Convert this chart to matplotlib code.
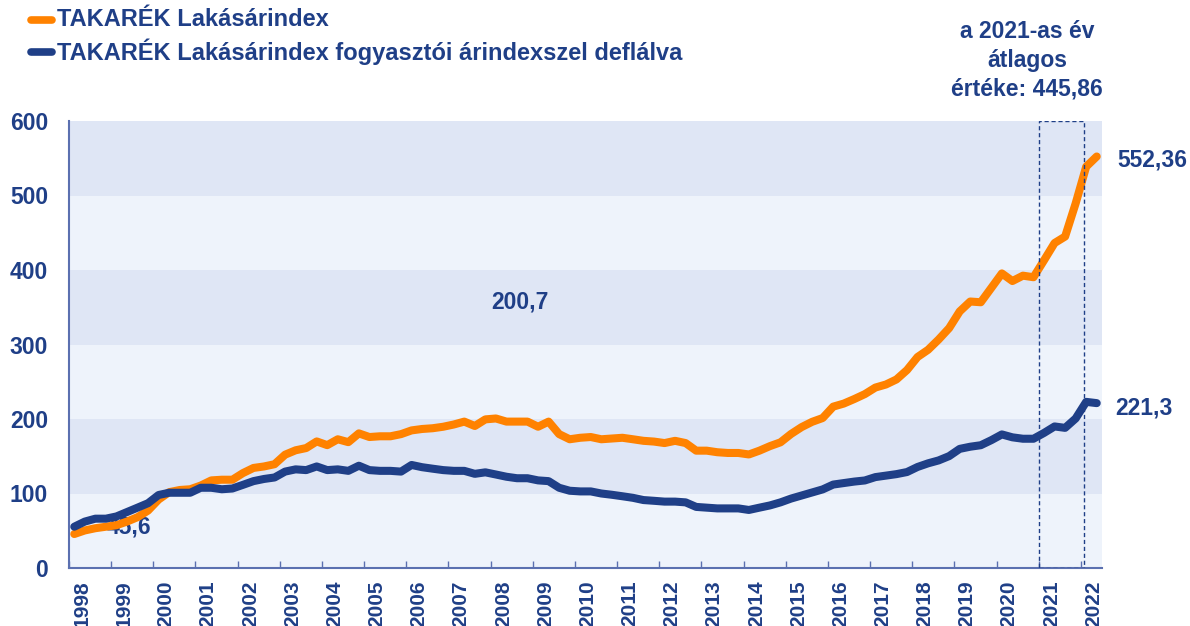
import numpy as np
import matplotlib
matplotlib.use("Agg")
import matplotlib.pyplot as plt
from matplotlib.lines import Line2D
from matplotlib.patches import Rectangle

plt.rcParams['font.family'] = ['Liberation Sans', 'DejaVu Sans']

# quarterly values, 1998 Q1 - 2022 Q2
first_year = 1998
nominal = [
    45.6, 50.4, 53.4, 55.4,        # 1998
    57.4, 62.3, 68.2, 77.1,        # 1999
    91.9, 101.8, 104.7, 105.7,     # 2000
    110.7, 117.6, 118.5, 118.5,    # 2001
    127.4, 134.3, 136.3, 139.3,    # 2002
    152.1, 158.0, 161.0, 169.9,    # 2003
    164.9, 172.8, 168.9, 180.7,    # 2004
    175.8, 176.8, 176.8, 179.7,    # 2005
    184.7, 186.6, 187.6, 189.6,    # 2006
    192.6, 196.5, 190.6, 199.5,    # 2007
    200.7, 196.5, 196.5, 196.5,    # 2008
    189.6, 196.5, 179.7, 172.8,    # 2009
    174.8, 175.8, 172.8, 173.8,    # 2010
    174.8, 172.8, 170.7, 169.7,    # 2011
    167.7, 170.7, 167.7, 157.5,    # 2012
    157.5, 155.4, 154.4, 154.4,    # 2013
    152.4, 157.5, 163.6, 168.7,    # 2014
    179.9, 189.1, 196.2, 201.3,    # 2015
    216.6, 220.7, 226.8, 233.4,    # 2016
    242.2, 246.3, 253.1, 265.7,    # 2017
    283.2, 292.9, 306.7, 322.0,    # 2018
    344.4, 357.7, 356.7, 376.0,    # 2019
    395.4, 385.2, 392.4, 390.3,    # 2020
    413.0, 436.2, 444.9, 489.4,    # 2021
    538.7, 552.36,                 # 2022
]
deflated = [
    55.4, 62.3, 66.2, 66.2,
    69.2, 75.1, 81.0, 87.0,
    98.0, 101.0, 101.0, 101.0,
    107.7, 107.7, 105.7, 106.7,
    111.6, 116.6, 119.5, 121.5,
    129.4, 132.4, 131.4, 136.3,
    131.4, 132.4, 130.4, 137.3,
    131.4, 130.4, 130.4, 129.4,
    138.3, 135.3, 133.3, 131.4,
    130.4, 130.4, 126.4, 128.4,
    125.5, 122.5, 120.5, 120.5,
    117.6, 116.6, 107.7, 103.7,
    102.8, 102.8, 100.0, 98.3,
    96.3, 94.2, 91.2, 90.2,
    89.1, 89.1, 88.1, 82.0,
    81.0, 80.0, 80.0, 80.0,
    77.9, 81.0, 84.0, 88.1,
    93.2, 97.3, 101.4, 105.5,
    112.0, 114.0, 116.0, 117.5,
    122.0, 124.0, 126.0, 128.8,
    135.6, 140.5, 144.4, 150.2,
    159.9, 162.8, 164.8, 171.6,
    179.3, 175.4, 173.5, 173.5,
    181.3, 190.0, 188.1, 200.7,
    223.0, 221.3,
]
years = list(range(1998, 2023))
avg_2021 = "445,86"

orange = "#FF8200"
navy = "#1F3F87"
axis_col = "#5B70B0"
band_dark = "#DFE6F5"
band_light = "#EEF3FB"

t = first_year + 0.125 + 0.25 * np.arange(len(nominal))

fig = plt.figure(figsize=(11.9, 6.26), dpi=100)
ax = fig.add_axes([69 / 1190, 1 - 568 / 626, (1102 - 69) / 1190, (568 - 121) / 626])

for k in range(6):
    ax.axhspan(k * 100, (k + 1) * 100, color=band_dark if k % 2 else band_light, lw=0, zorder=0)

ax.plot(t, nominal, color=orange, lw=5.8, solid_capstyle='round', solid_joinstyle='round', zorder=3)
ax.plot(t, deflated, color=navy, lw=5.8, solid_capstyle='round', solid_joinstyle='round', zorder=3)

# 2021 average box
ax.add_patch(Rectangle((2021, 0), 1.08, 600, fill=False, ec=navy, lw=1, ls=(0, (3, 2)), zorder=4))

ax.set_xlim(1998, 2022.5)
ax.set_ylim(0, 600)
ax.set_yticks(range(0, 601, 100))
ax.tick_params(axis='y', length=0, pad=15, labelsize=16.5, labelcolor=navy)
for lab in ax.get_yticklabels():
    lab.set_fontweight('bold')

ax.set_xticks(years)
ax.set_xticklabels([])
ax.set_xticks([y + 0.3 for y in years], minor=True)
ax.set_xticklabels([str(y) for y in years], minor=True, rotation=90, fontsize=15,
                   fontweight='bold', color=navy)
ax.tick_params(axis='x', which='major', direction='in', length=5, width=1, color=axis_col)
ax.tick_params(axis='x', which='minor', length=0, pad=9)

for side in ['top', 'right']:
    ax.spines[side].set_visible(False)
for side in ['left', 'bottom']:
    ax.spines[side].set_color(axis_col)
    ax.spines[side].set_linewidth(1.5)

txt = dict(fontsize=16.5, fontweight='bold', color=navy)
ax.text(1999.42, 55, "45,6", ha='center', va='center', zorder=2, **txt)
ax.text(2008.7, 357, "200,7", ha='center', va='center', **txt)
ax.text(2022.86, 548, "552,36", ha='left', va='center', clip_on=False, **txt)
ax.text(2022.82, 215, "221,3", ha='left', va='center', clip_on=False, **txt)

fig.text(1027 / 1190, 1 - 60 / 626, "a 2021-as év\nátlagos\nértéke: " + avg_2021,
         ha='center', va='center', multialignment='center', linespacing=1.33, **txt)

# legend
legend_rows = [(orange, "TAKARÉK Lakásárindex", 20),
               (navy, "TAKARÉK Lakásárindex fogyasztói árindexszel deflálva", 52)]
for col, label, ypix in legend_rows:
    yf = 1 - ypix / 626
    fig.add_artist(Line2D([31 / 1190, 52 / 1190], [yf, yf], color=col, lw=5.5,
                          solid_capstyle='round', transform=fig.transFigure))
    fig.text(57 / 1190, yf, label, ha='left', va='center',
             fontsize=17, fontweight='bold', color=navy)

fig.savefig("out.png", dpi=100)
